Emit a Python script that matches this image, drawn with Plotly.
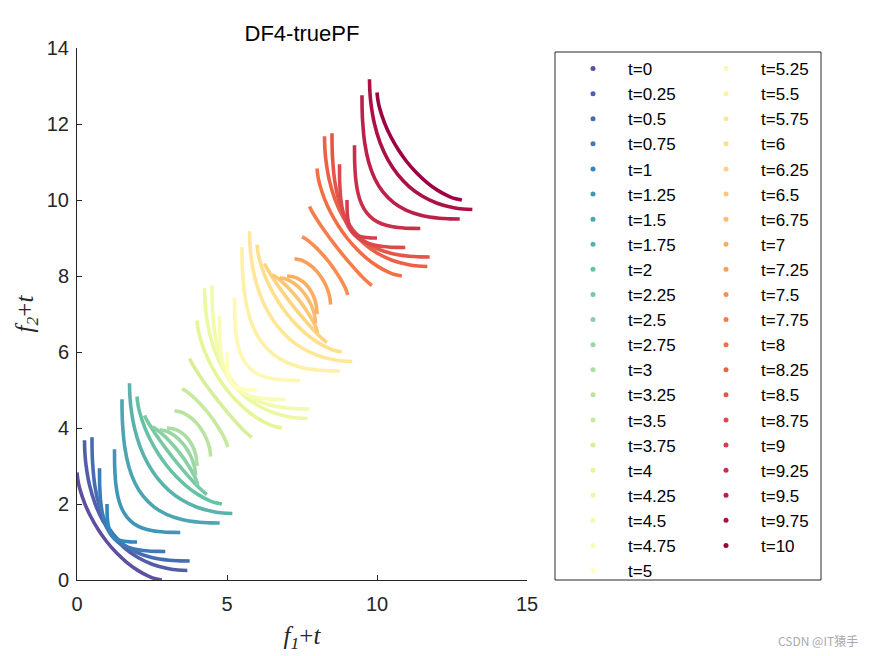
import plotly.graph_objects as go
from plotly.colors import sample_colorscale

# ---- data -------------------------------------------------------------
# time steps shown in the legend
T_VALUES = [0, 0.25, 0.5, 0.75, 1, 1.25, 1.5, 1.75, 2, 2.25, 2.5, 2.75, 3, 3.25,
            3.5, 3.75, 4, 4.25, 4.5, 4.75, 5, 5.25, 5.5, 5.75, 6, 6.25, 6.5, 6.75,
            7, 7.25, 7.5, 7.75, 8, 8.25, 8.5, 8.75, 9, 9.25, 9.5, 9.75, 10]

# which front shape each time step has (index into the shape lists below)
SHAPE_OF_T = [0, 1, 2, 3, 4, 3, 2, 1, 0, 5, 6, 7, 8, 7, 6, 5,
              0, 1, 2, 3, 4, 3, 2, 1, 0, 5, 6, 7, 8, 7, 6, 5,
              0, 1, 2, 3, 4, 3, 2, 1, 0]

# sampled true-PF objective values (f1, f2) of each front shape
F1_S0 = [0, 0.032, 0.089, 0.253, 0.465, 0.716, 1.0, 1.315, 1.657, 2.024, 2.415, 2.619, 2.828]
F2_S0 = [2.828, 2.619, 2.415, 2.024, 1.657, 1.315, 1.0, 0.716, 0.465, 0.253, 0.089, 0.032, 0]
F1_S1 = [0, 0.012, 0.045, 0.166, 0.355, 0.611, 0.930, 1.311, 1.752, 2.252, 2.811, 3.113, 3.428]
F2_S1 = [3.428, 3.113, 2.811, 2.252, 1.752, 1.311, 0.930, 0.611, 0.355, 0.166, 0.045, 0.012, 0]
F1_S2 = [0, 0.004, 0.020, 0.093, 0.228, 0.431, 0.705, 1.054, 1.482, 1.990, 2.580, 2.907, 3.256]
F2_S2 = [3.256, 2.907, 2.580, 1.990, 1.482, 1.054, 0.705, 0.431, 0.228, 0.093, 0.020, 0.004, 0]
F1_S3 = [0, 0.002, 0.008, 0.044, 0.119, 0.238, 0.409, 0.636, 0.924, 1.277, 1.699, 1.937, 2.193]
F2_S3 = [2.193, 1.937, 1.699, 1.277, 0.924, 0.636, 0.409, 0.238, 0.119, 0.044, 0.008, 0.002, 0]
F1_S4 = [0, 0.001, 0.003, 0.018, 0.049, 0.101, 0.177, 0.279, 0.410, 0.572, 0.768, 0.880, 1.0]
F2_S4 = [1.0, 0.880, 0.768, 0.572, 0.410, 0.279, 0.177, 0.101, 0.049, 0.018, 0.003, 0.001, 0]
F1_S5 = [0, 0.073, 0.159, 0.344, 0.541, 0.746, 0.958, 1.174, 1.395, 1.619, 1.847, 1.962, 2.078]
F2_S5 = [2.078, 1.962, 1.847, 1.619, 1.395, 1.174, 0.958, 0.746, 0.541, 0.344, 0.159, 0.073, 0]
F1_S6 = [0, 0.142, 0.246, 0.427, 0.588, 0.739, 0.882, 1.019, 1.152, 1.280, 1.406, 1.467, 1.528]
F2_S6 = [1.528, 1.467, 1.406, 1.280, 1.152, 1.019, 0.882, 0.739, 0.588, 0.427, 0.246, 0.142, 0]
F1_S7 = [0, 0.215, 0.320, 0.477, 0.602, 0.711, 0.809, 0.898, 0.981, 1.060, 1.134, 1.170, 1.205]
F2_S7 = [1.205, 1.170, 1.134, 1.060, 0.981, 0.898, 0.809, 0.711, 0.602, 0.477, 0.320, 0.215, 0]
F1_S8 = [0, 0.224, 0.316, 0.447, 0.548, 0.632, 0.707, 0.775, 0.837, 0.894, 0.949, 0.975, 1.0]
F2_S8 = [1.0, 0.975, 0.949, 0.894, 0.837, 0.775, 0.707, 0.632, 0.548, 0.447, 0.316, 0.224, 0]

X_TICKS = [0, 5, 10, 15]
Y_TICKS = [0, 2, 4, 6, 8, 10, 12, 14]

F1_SHAPES = [F1_S0, F1_S1, F1_S2, F1_S3, F1_S4, F1_S5, F1_S6, F1_S7, F1_S8]
F2_SHAPES = [F2_S0, F2_S1, F2_S2, F2_S3, F2_S4, F2_S5, F2_S6, F2_S7, F2_S8]

# ---- figure -----------------------------------------------------------
n = len(T_VALUES)
colors = sample_colorscale("Spectral_r", [k / (n - 1) for k in range(n)])

fig = go.Figure()
for k, t in enumerate(T_VALUES):
    s = SHAPE_OF_T[k]
    fig.add_trace(go.Scatter(
        x=[v + t for v in F1_SHAPES[s]],
        y=[v + t for v in F2_SHAPES[s]],
        mode="lines", line=dict(color=colors[k], width=3.6, shape="spline"),
        showlegend=False, hoverinfo="skip"))

for k, t in enumerate(T_VALUES):
    fig.add_trace(go.Scatter(
        x=[None], y=[None], mode="markers",
        marker=dict(color=colors[k], size=5, symbol="circle"),
        name=f"t={t:g}", legend="legend" if t <= 5 else "legend2"))

axis_font = dict(family="Liberation Sans, Arial", size=20, color="#262626")
title_font = dict(family="Liberation Serif, Times New Roman", size=25, color="#262626")

leg_common = dict(bgcolor="rgba(0,0,0,0)", borderwidth=0, xanchor="left", yanchor="top",
                  font=dict(family="Liberation Sans, Arial", size=17, color="black"),
                  itemwidth=60, tracegroupgap=0, maxheight=640)

fig.update_layout(
    width=875, height=656,
    margin=dict(l=77, r=348, t=48, b=76),
    paper_bgcolor="white", plot_bgcolor="white",
    title=dict(text="DF4-truePF", x=0.5, xref="paper", xanchor="center",
               y=1 - 33 / 656, yref="container", yanchor="middle",
               font=dict(family="Liberation Sans, Arial", size=22, color="black")),
    xaxis=dict(range=[0, 15], tickvals=X_TICKS, ticks="inside", ticklen=5,
               tickcolor="#262626", showline=True, linecolor="#262626", linewidth=1,
               showgrid=False, zeroline=False, tickfont=axis_font, automargin=False,
               ticklabelstandoff=6,
               title=dict(text="<i>f</i><sub><i>1</i></sub>+<i>t</i>", font=title_font,
                          standoff=12)),
    yaxis=dict(range=[0, 14], tickvals=Y_TICKS, ticks="inside", ticklen=5,
               tickcolor="#262626", showline=True, linecolor="#262626", linewidth=1,
               showgrid=False, zeroline=False, tickfont=axis_font, automargin=False,
               ticklabelstandoff=3,
               title=dict(text="<i>f</i><sub><i>2</i></sub>+<i>t</i>", font=title_font,
                          standoff=6)),
    legend=dict(x=(558 - 77) / 450, y=(580 - 51) / 532, **leg_common),
    legend2=dict(x=(691 - 77) / 450, y=(580 - 51) / 532, **leg_common),
    shapes=[dict(type="rect", xref="paper", yref="paper",
                 x0=(555 - 77) / 450, x1=(821 - 77) / 450,
                 y0=0, y1=(580 - 52) / 532,
                 line=dict(color="#262626", width=1), fillcolor="rgba(0,0,0,0)")],
    annotations=[dict(text="CSDN @IT猿手", xref="paper", yref="paper",
                      x=(860 - 77) / 450, y=(580 - 640) / 532, xanchor="right",
                      yanchor="middle", showarrow=False,
                      font=dict(family="Noto Sans CJK SC, Liberation Sans", size=12,
                                color="#aaaaaa"))],
)

fig.write_html("out.html", config={"displayModeBar": False},
               post_script="document.body.style.margin='0px';")
